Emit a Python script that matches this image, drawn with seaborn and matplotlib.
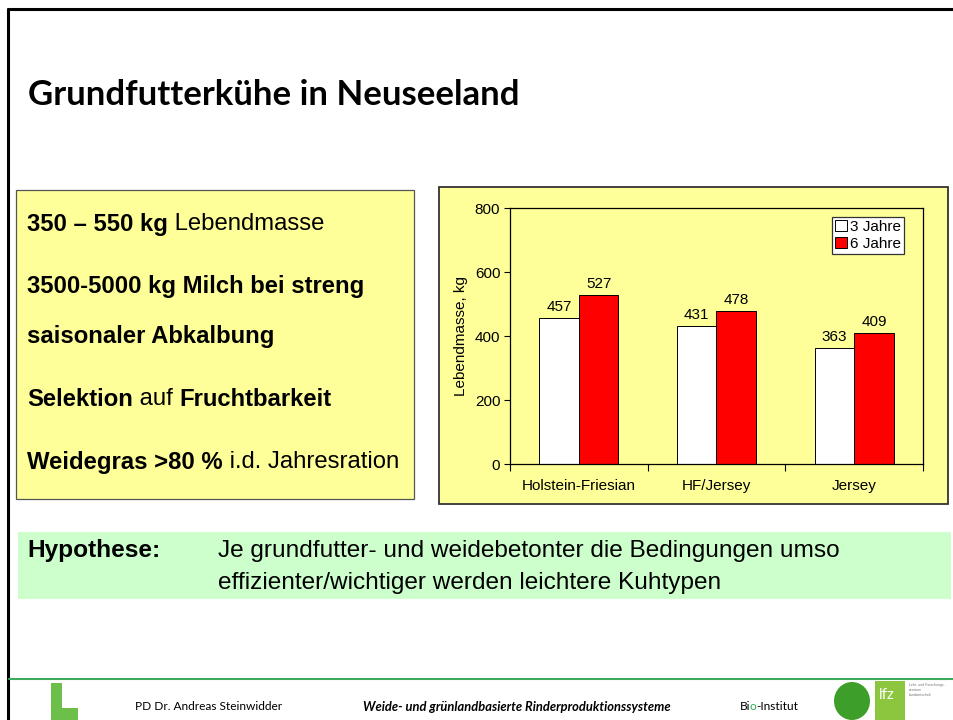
import matplotlib
matplotlib.use("Agg")
import matplotlib.pyplot as plt
import seaborn as sns
import pandas as pd
from matplotlib.patches import Rectangle, Ellipse
from matplotlib.lines import Line2D

# ---------------- data ----------------
categories = ["Holstein-Friesian", "HF/Jersey", "Jersey"]
series_names = ["3 Jahre", "6 Jahre"]
values_3j = [457, 431, 363]
values_6j = [527, 478, 409]
y_ticks = [0, 200, 400, 600, 800]
y_label = "Lebendmasse, kg"

df = pd.DataFrame({
    "Rasse": categories * 2,
    "Alter": [series_names[0]] * 3 + [series_names[1]] * 3,
    "Lebendmasse": values_3j + values_6j,
})

sns.set_theme(style="white")
plt.rcParams["font.family"] = ["Liberation Sans", "DejaVu Sans"]
plt.rcParams["text.color"] = "black"
plt.rcParams["axes.labelcolor"] = "black"
plt.rcParams["xtick.color"] = "black"
plt.rcParams["ytick.color"] = "black"

W, H = 954, 720
fig = plt.figure(figsize=(W / 100, H / 100), dpi=100)
fig.patch.set_facecolor("white")


def fx(x):
    return x / W


def fy(y):
    return 1 - y / H


def rect(x0, y0, x1, y1, **kw):
    r = Rectangle((fx(x0), fy(y1)), fx(x1) - fx(x0), fy(y0) - fy(y1),
                  transform=fig.transFigure, zorder=-5, **kw)
    fig.add_artist(r)
    return r


YELLOW = "#FFFF99"
GREEN_BAND = "#CCFFCC"

# slide frame lines (top and left)
fig.add_artist(Line2D([fx(8), fx(954)], [fy(9), fy(9)], transform=fig.transFigure,
                      color="black", lw=2.2))
fig.add_artist(Line2D([fx(8), fx(8)], [fy(9), fy(720)], transform=fig.transFigure,
                      color="black", lw=2.2))

# title
fig.text(fx(28), fy(95), "Grundfutterkühe in Neuseeland", fontsize=25,
         fontweight="bold", family=["Lato", "DejaVu Sans"], va="center", ha="left")

fig.canvas.draw()
R = fig.canvas.get_renderer()


def mixed_line(x, y, parts, fs, **kw):
    cur = x
    for txt, bold in parts:
        t = fig.text(fx(cur), fy(y), txt, fontsize=fs,
                     fontweight="bold" if bold else "normal", va="center", ha="left", **kw)
        cur = cur + t.get_window_extent(renderer=R).width


# left text box
rect(16, 190, 414, 499, facecolor=YELLOW, edgecolor="#555555", lw=0.9)
fs_box = 17.2
mixed_line(27, 224, [("350 – 550 kg", True), (" Lebendmasse", False)], fs_box)
mixed_line(27, 287, [("3500-5000 kg Milch bei streng", True)], fs_box)
mixed_line(27, 336, [("saisonaler Abkalbung", True)], fs_box)
mixed_line(27, 399, [("Selektion", True), (" auf ", False), ("Fruchtbarkeit", True)], fs_box)
mixed_line(27, 462, [("Weidegras >80 %", True), (" i.d. Jahresration", False)], fs_box)

# chart panel
rect(439, 187, 948, 504, facecolor=YELLOW, edgecolor="#333333", lw=1.3)

fs_c = 11
ax = fig.add_axes([fx(510), fy(464), fx(923) - fx(510), fy(208) - fy(464)])
ax.set_zorder(5)
ax.set_facecolor(YELLOW)
sns.barplot(data=df, x="Rasse", y="Lebendmasse", hue="Alter",
            palette=["white", "#FF0000"], edgecolor="black", linewidth=0.7,
            width=0.575, ax=ax, errorbar=None, saturation=1)
for cont in ax.containers:
    ax.bar_label(cont, padding=3, fontsize=fs_c, color="black")

ax.set_ylim(y_ticks[0], y_ticks[-1])
ax.set_yticks(y_ticks)
ax.set_xlim(-0.5, len(categories) - 0.5)
ax.set_xlabel("")
ax.set_ylabel(y_label, fontsize=fs_c, color="black", labelpad=5)
ax.tick_params(axis="y", which="major", direction="out", length=4, width=0.8,
               labelsize=fs_c, colors="black", left=True, pad=3)
ax.tick_params(axis="x", which="major", length=0, labelsize=fs_c, colors="black", pad=11)
ax.set_xticks([-0.5, 0.5, 1.5, 2.5], minor=True)
ax.tick_params(axis="x", which="minor", direction="out", length=5, width=0.8,
               bottom=True, color="black")
for sp in ax.spines.values():
    sp.set_color("black")
    sp.set_linewidth(0.9)
    sp.set_visible(True)

handles, labels = ax.get_legend_handles_labels()
leg = ax.legend(handles, labels, loc="upper right", bbox_to_anchor=(0.955, 0.965),
                fontsize=fs_c, frameon=True, fancybox=False, edgecolor="#333333",
                facecolor="white", framealpha=1, handlelength=0.75, handleheight=0.75,
                handletextpad=0.25, borderpad=0.2, labelspacing=0.2, borderaxespad=0)
leg.get_frame().set_linewidth(0.9)

# hypothesis band
rect(18, 532, 951, 599, facecolor=GREEN_BAND, edgecolor="none")
fs_h = 17.6
fig.text(fx(27), fy(551), "Hypothese:", fontsize=fs_h, fontweight="bold",
         va="center", ha="left")
fig.text(fx(218), fy(551), "Je grundfutter- und weidebetonter die Bedingungen umso",
         fontsize=fs_h, va="center", ha="left")
fig.text(fx(218), fy(583), "effizienter/wichtiger werden leichtere Kuhtypen",
         fontsize=fs_h, va="center", ha="left")

# footer line
fig.add_artist(Line2D([fx(9), fx(954)], [fy(679), fy(679)], transform=fig.transFigure,
                      color="#3DAA5C", lw=1.5))

# footer logos (simple shapes)
rect(51, 683, 62, 720, facecolor="#6CC04A", edgecolor="none")
rect(51, 708, 78, 720, facecolor="#6CC04A", edgecolor="none")
fig.add_artist(Ellipse((fx(852), fy(701)), 36 / W, 38 / H, transform=fig.transFigure,
                       facecolor="#3E9E2A", edgecolor="none"))
rect(875, 681, 905, 720, facecolor="#8CC63F", edgecolor="none")
fig.text(fx(879), fy(695), "lfz", fontsize=11, color="white", family=["Lato", "DejaVu Sans"],
         va="center", ha="left")
fig.text(fx(909), fy(690), "Lehr- und Forschungs-\nzentrum\nLandwirtschaft", fontsize=2.5,
         color="#777777", va="center", ha="left")

# footer texts
ffam = ["Lato", "DejaVu Sans"]
fs_f = 8.6
fig.text(fx(135), fy(707), "PD Dr. Andreas Steinwidder", fontsize=fs_f, family=ffam,
         va="center", ha="left")
fig.text(fx(363), fy(707), "Weide- und grünlandbasierte Rinderproduktionssysteme",
         fontsize=9.3, family=ffam, fontweight="bold", style="italic", va="center", ha="left")

# "Bio-Institut" with green "o"
t_bi = fig.text(fx(740), fy(707), "Bi", fontsize=fs_f, family=ffam, color="black",
                va="center", ha="left")
w_bi = t_bi.get_window_extent(renderer=R).width
x_o = 740 + w_bi - 1.0
t_o = fig.text(fx(x_o), fy(707), "o", fontsize=fs_f, family=ffam,
               color="#22B14C", va="center", ha="left")
w_o = t_o.get_window_extent(renderer=R).width
fig.text(fx(x_o + w_o), fy(707), "-Institut", fontsize=fs_f,
         family=ffam, color="black", va="center", ha="left")

fig.savefig("out.png", dpi=100, facecolor="white")
